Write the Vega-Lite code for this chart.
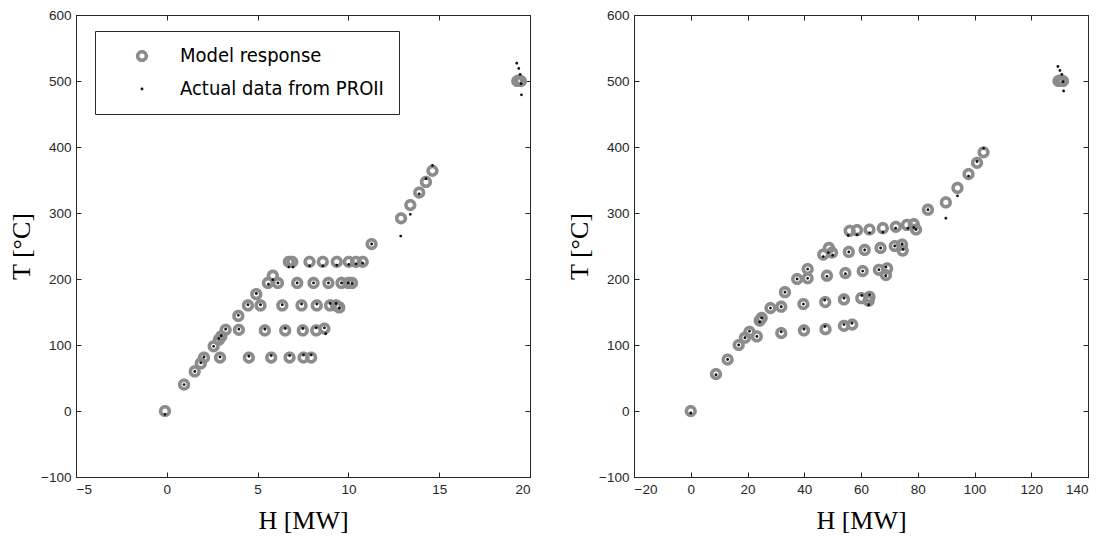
{
  "$schema": "https://vega.github.io/schema/vega-lite/v6.json",
  "padding": {"left": 8, "top": 7, "right": 5, "bottom": 5},
  "background": "white",
  "config": {
    "view": {"stroke": "#262626", "strokeWidth": 1},
    "axis": {
      "grid": false,
      "domainColor": "#262626",
      "tickColor": "#262626",
      "labelColor": "#262626",
      "labelFont": "Liberation Sans",
      "labelFontSize": 13.5,
      "titleFont": "Liberation Serif",
      "titleFontSize": 26,
      "titleFontWeight": "normal",
      "titleColor": "#000000",
      "tickSize": -5,
      "labelPadding": 10
    },
    "legend": {
      "title": null,
      "orient": "none",
      "legendX": 19,
      "legendY": 16,
      "padding": 15,
      "strokeColor": "#262626",
      "fillColor": "white",
      "labelFont": "Liberation Sans Narrow, DejaVu Sans Condensed, sans-serif",
      "labelFontSize": 20,
      "labelColor": "#000000",
      "labelLimit": 500,
      "rowPadding": 13,
      "symbolSize": 150,
      "symbolStrokeWidth": 0,
      "symbolOffset": 22,
      "labelOffset": 28
    }
  },
  "datasets": {
    "left": [
      {"series": "Model response", "H": -0.1, "T": 0},
      {"series": "Model response", "H": 0.95, "T": 40},
      {"series": "Model response", "H": 1.54, "T": 60},
      {"series": "Model response", "H": 1.87, "T": 72},
      {"series": "Model response", "H": 2.05, "T": 81},
      {"series": "Model response", "H": 2.58, "T": 98},
      {"series": "Model response", "H": 2.87, "T": 108},
      {"series": "Model response", "H": 3.0, "T": 113},
      {"series": "Model response", "H": 3.24, "T": 123},
      {"series": "Model response", "H": 2.93, "T": 81},
      {"series": "Model response", "H": 3.97, "T": 123},
      {"series": "Model response", "H": 3.94, "T": 144},
      {"series": "Model response", "H": 4.47, "T": 160},
      {"series": "Model response", "H": 5.16, "T": 160},
      {"series": "Model response", "H": 4.93, "T": 177},
      {"series": "Model response", "H": 5.57, "T": 194},
      {"series": "Model response", "H": 5.84, "T": 205},
      {"series": "Model response", "H": 6.12, "T": 194},
      {"series": "Model response", "H": 6.72, "T": 226},
      {"series": "Model response", "H": 6.91, "T": 226},
      {"series": "Model response", "H": 7.86, "T": 226},
      {"series": "Model response", "H": 8.59, "T": 226},
      {"series": "Model response", "H": 9.36, "T": 226},
      {"series": "Model response", "H": 10.02, "T": 226},
      {"series": "Model response", "H": 10.42, "T": 226},
      {"series": "Model response", "H": 10.79, "T": 226},
      {"series": "Model response", "H": 7.18, "T": 194},
      {"series": "Model response", "H": 8.08, "T": 194},
      {"series": "Model response", "H": 8.9, "T": 194},
      {"series": "Model response", "H": 9.62, "T": 194},
      {"series": "Model response", "H": 10.0, "T": 194},
      {"series": "Model response", "H": 10.2, "T": 194},
      {"series": "Model response", "H": 6.36, "T": 160},
      {"series": "Model response", "H": 7.42, "T": 160},
      {"series": "Model response", "H": 8.26, "T": 160},
      {"series": "Model response", "H": 8.99, "T": 160},
      {"series": "Model response", "H": 9.32, "T": 160},
      {"series": "Model response", "H": 9.5, "T": 157},
      {"series": "Model response", "H": 5.4, "T": 122},
      {"series": "Model response", "H": 6.52, "T": 122},
      {"series": "Model response", "H": 7.49, "T": 122},
      {"series": "Model response", "H": 8.23, "T": 122},
      {"series": "Model response", "H": 8.68, "T": 125},
      {"series": "Model response", "H": 4.52, "T": 81},
      {"series": "Model response", "H": 5.75, "T": 81},
      {"series": "Model response", "H": 6.76, "T": 81},
      {"series": "Model response", "H": 7.53, "T": 81},
      {"series": "Model response", "H": 7.95, "T": 81},
      {"series": "Model response", "H": 11.28, "T": 253},
      {"series": "Model response", "H": 12.9, "T": 292},
      {"series": "Model response", "H": 13.41, "T": 312},
      {"series": "Model response", "H": 13.9, "T": 331},
      {"series": "Model response", "H": 14.27, "T": 347},
      {"series": "Model response", "H": 14.63, "T": 364},
      {"series": "Model response", "H": 19.3, "T": 500},
      {"series": "Model response", "H": 19.4, "T": 501},
      {"series": "Model response", "H": 19.5, "T": 500},
      {"series": "Actual data from PROII", "H": -0.1, "T": -5},
      {"series": "Actual data from PROII", "H": 0.95, "T": 40},
      {"series": "Actual data from PROII", "H": 1.54, "T": 60},
      {"series": "Actual data from PROII", "H": 1.87, "T": 73},
      {"series": "Actual data from PROII", "H": 2.05, "T": 82},
      {"series": "Actual data from PROII", "H": 2.58, "T": 98},
      {"series": "Actual data from PROII", "H": 2.87, "T": 110},
      {"series": "Actual data from PROII", "H": 3.0, "T": 114},
      {"series": "Actual data from PROII", "H": 3.24, "T": 124},
      {"series": "Actual data from PROII", "H": 2.93, "T": 82},
      {"series": "Actual data from PROII", "H": 3.97, "T": 124},
      {"series": "Actual data from PROII", "H": 3.94, "T": 145},
      {"series": "Actual data from PROII", "H": 4.47, "T": 161},
      {"series": "Actual data from PROII", "H": 5.16, "T": 161},
      {"series": "Actual data from PROII", "H": 4.93, "T": 178},
      {"series": "Actual data from PROII", "H": 5.6, "T": 192},
      {"series": "Actual data from PROII", "H": 5.84, "T": 199},
      {"series": "Actual data from PROII", "H": 6.12, "T": 194},
      {"series": "Actual data from PROII", "H": 6.72, "T": 218},
      {"series": "Actual data from PROII", "H": 6.95, "T": 218},
      {"series": "Actual data from PROII", "H": 7.86, "T": 220},
      {"series": "Actual data from PROII", "H": 8.59, "T": 220},
      {"series": "Actual data from PROII", "H": 9.36, "T": 221},
      {"series": "Actual data from PROII", "H": 10.02, "T": 222},
      {"series": "Actual data from PROII", "H": 10.42, "T": 223},
      {"series": "Actual data from PROII", "H": 10.79, "T": 224},
      {"series": "Actual data from PROII", "H": 7.18, "T": 194},
      {"series": "Actual data from PROII", "H": 8.08, "T": 194},
      {"series": "Actual data from PROII", "H": 8.9, "T": 194},
      {"series": "Actual data from PROII", "H": 9.62, "T": 194},
      {"series": "Actual data from PROII", "H": 10.0, "T": 194},
      {"series": "Actual data from PROII", "H": 10.2, "T": 193},
      {"series": "Actual data from PROII", "H": 6.36, "T": 161},
      {"series": "Actual data from PROII", "H": 7.42, "T": 162},
      {"series": "Actual data from PROII", "H": 8.26, "T": 162},
      {"series": "Actual data from PROII", "H": 8.99, "T": 163},
      {"series": "Actual data from PROII", "H": 9.32, "T": 163},
      {"series": "Actual data from PROII", "H": 9.5, "T": 156},
      {"series": "Actual data from PROII", "H": 5.4, "T": 124},
      {"series": "Actual data from PROII", "H": 6.52, "T": 125},
      {"series": "Actual data from PROII", "H": 7.49, "T": 125},
      {"series": "Actual data from PROII", "H": 8.23, "T": 126},
      {"series": "Actual data from PROII", "H": 8.68, "T": 126},
      {"series": "Actual data from PROII", "H": 8.75, "T": 117},
      {"series": "Actual data from PROII", "H": 4.52, "T": 83},
      {"series": "Actual data from PROII", "H": 5.75, "T": 84},
      {"series": "Actual data from PROII", "H": 6.76, "T": 84},
      {"series": "Actual data from PROII", "H": 7.53, "T": 85},
      {"series": "Actual data from PROII", "H": 7.95, "T": 85},
      {"series": "Actual data from PROII", "H": 11.28, "T": 253},
      {"series": "Actual data from PROII", "H": 12.88, "T": 265},
      {"series": "Actual data from PROII", "H": 13.41, "T": 298},
      {"series": "Actual data from PROII", "H": 13.9, "T": 329},
      {"series": "Actual data from PROII", "H": 14.27, "T": 352},
      {"series": "Actual data from PROII", "H": 14.63, "T": 372},
      {"series": "Actual data from PROII", "H": 19.27, "T": 527},
      {"series": "Actual data from PROII", "H": 19.38, "T": 519},
      {"series": "Actual data from PROII", "H": 19.46, "T": 510},
      {"series": "Actual data from PROII", "H": 19.51, "T": 496},
      {"series": "Actual data from PROII", "H": 19.53, "T": 479}
    ],
    "right": [
      {"series": "Model response", "H": 0, "T": 0},
      {"series": "Model response", "H": 8.9, "T": 56},
      {"series": "Model response", "H": 13.0, "T": 78},
      {"series": "Model response", "H": 16.9, "T": 100},
      {"series": "Model response", "H": 19.1, "T": 111},
      {"series": "Model response", "H": 20.7, "T": 120},
      {"series": "Model response", "H": 23.3, "T": 113},
      {"series": "Model response", "H": 24.3, "T": 137},
      {"series": "Model response", "H": 25.0, "T": 141},
      {"series": "Model response", "H": 28.1, "T": 156},
      {"series": "Model response", "H": 31.9, "T": 158},
      {"series": "Model response", "H": 31.9, "T": 118},
      {"series": "Model response", "H": 33.2, "T": 180},
      {"series": "Model response", "H": 37.5, "T": 200},
      {"series": "Model response", "H": 41.2, "T": 201},
      {"series": "Model response", "H": 41.2, "T": 215},
      {"series": "Model response", "H": 39.7, "T": 162},
      {"series": "Model response", "H": 39.9, "T": 122},
      {"series": "Model response", "H": 46.7, "T": 237},
      {"series": "Model response", "H": 48.0, "T": 205},
      {"series": "Model response", "H": 47.4, "T": 165},
      {"series": "Model response", "H": 47.5, "T": 124},
      {"series": "Model response", "H": 48.7, "T": 247},
      {"series": "Model response", "H": 49.8, "T": 240},
      {"series": "Model response", "H": 54.5, "T": 209},
      {"series": "Model response", "H": 54.0, "T": 169},
      {"series": "Model response", "H": 54.0, "T": 129},
      {"series": "Model response", "H": 56.9, "T": 131},
      {"series": "Model response", "H": 55.7, "T": 241},
      {"series": "Model response", "H": 56.0, "T": 273},
      {"series": "Model response", "H": 58.6, "T": 274},
      {"series": "Model response", "H": 60.6, "T": 212},
      {"series": "Model response", "H": 60.1, "T": 171},
      {"series": "Model response", "H": 63.0, "T": 173},
      {"series": "Model response", "H": 62.7, "T": 167},
      {"series": "Model response", "H": 61.3, "T": 244},
      {"series": "Model response", "H": 63.0, "T": 275},
      {"series": "Model response", "H": 66.3, "T": 214},
      {"series": "Model response", "H": 69.2, "T": 216},
      {"series": "Model response", "H": 68.8, "T": 206},
      {"series": "Model response", "H": 66.9, "T": 247},
      {"series": "Model response", "H": 67.7, "T": 277},
      {"series": "Model response", "H": 71.9, "T": 250},
      {"series": "Model response", "H": 72.3, "T": 279},
      {"series": "Model response", "H": 74.5, "T": 252},
      {"series": "Model response", "H": 74.7, "T": 243},
      {"series": "Model response", "H": 76.2, "T": 282},
      {"series": "Model response", "H": 78.6, "T": 283},
      {"series": "Model response", "H": 79.4, "T": 275},
      {"series": "Model response", "H": 83.6, "T": 305},
      {"series": "Model response", "H": 89.9, "T": 316},
      {"series": "Model response", "H": 94.0, "T": 338},
      {"series": "Model response", "H": 97.9, "T": 359},
      {"series": "Model response", "H": 100.9, "T": 376},
      {"series": "Model response", "H": 103.2, "T": 392},
      {"series": "Model response", "H": 129.6, "T": 500},
      {"series": "Model response", "H": 130.4, "T": 501},
      {"series": "Model response", "H": 131.2, "T": 500},
      {"series": "Actual data from PROII", "H": 0, "T": -3},
      {"series": "Actual data from PROII", "H": 8.9, "T": 55},
      {"series": "Actual data from PROII", "H": 13.0, "T": 78},
      {"series": "Actual data from PROII", "H": 16.9, "T": 100},
      {"series": "Actual data from PROII", "H": 19.1, "T": 111},
      {"series": "Actual data from PROII", "H": 20.7, "T": 121},
      {"series": "Actual data from PROII", "H": 23.3, "T": 113},
      {"series": "Actual data from PROII", "H": 24.3, "T": 135},
      {"series": "Actual data from PROII", "H": 25.0, "T": 141},
      {"series": "Actual data from PROII", "H": 28.1, "T": 156},
      {"series": "Actual data from PROII", "H": 31.9, "T": 158},
      {"series": "Actual data from PROII", "H": 31.9, "T": 120},
      {"series": "Actual data from PROII", "H": 33.2, "T": 180},
      {"series": "Actual data from PROII", "H": 37.5, "T": 200},
      {"series": "Actual data from PROII", "H": 41.2, "T": 201},
      {"series": "Actual data from PROII", "H": 41.2, "T": 215},
      {"series": "Actual data from PROII", "H": 39.7, "T": 162},
      {"series": "Actual data from PROII", "H": 39.9, "T": 124},
      {"series": "Actual data from PROII", "H": 46.7, "T": 234},
      {"series": "Actual data from PROII", "H": 48.0, "T": 204},
      {"series": "Actual data from PROII", "H": 47.2, "T": 168},
      {"series": "Actual data from PROII", "H": 47.3, "T": 128},
      {"series": "Actual data from PROII", "H": 48.5, "T": 240},
      {"series": "Actual data from PROII", "H": 50.0, "T": 236},
      {"series": "Actual data from PROII", "H": 54.5, "T": 208},
      {"series": "Actual data from PROII", "H": 54.0, "T": 171},
      {"series": "Actual data from PROII", "H": 54.0, "T": 131},
      {"series": "Actual data from PROII", "H": 56.8, "T": 133},
      {"series": "Actual data from PROII", "H": 55.7, "T": 241},
      {"series": "Actual data from PROII", "H": 55.5, "T": 266},
      {"series": "Actual data from PROII", "H": 58.6, "T": 267},
      {"series": "Actual data from PROII", "H": 60.6, "T": 212},
      {"series": "Actual data from PROII", "H": 60.3, "T": 175},
      {"series": "Actual data from PROII", "H": 63.0, "T": 176},
      {"series": "Actual data from PROII", "H": 62.7, "T": 161},
      {"series": "Actual data from PROII", "H": 61.3, "T": 244},
      {"series": "Actual data from PROII", "H": 63.0, "T": 270},
      {"series": "Actual data from PROII", "H": 66.3, "T": 214},
      {"series": "Actual data from PROII", "H": 68.8, "T": 218},
      {"series": "Actual data from PROII", "H": 68.7, "T": 205},
      {"series": "Actual data from PROII", "H": 66.9, "T": 247},
      {"series": "Actual data from PROII", "H": 67.7, "T": 271},
      {"series": "Actual data from PROII", "H": 71.9, "T": 250},
      {"series": "Actual data from PROII", "H": 72.2, "T": 277},
      {"series": "Actual data from PROII", "H": 74.5, "T": 253},
      {"series": "Actual data from PROII", "H": 74.8, "T": 245},
      {"series": "Actual data from PROII", "H": 76.5, "T": 277},
      {"series": "Actual data from PROII", "H": 78.6, "T": 278},
      {"series": "Actual data from PROII", "H": 79.4, "T": 275},
      {"series": "Actual data from PROII", "H": 83.6, "T": 305},
      {"series": "Actual data from PROII", "H": 89.9, "T": 292},
      {"series": "Actual data from PROII", "H": 94.0, "T": 326},
      {"series": "Actual data from PROII", "H": 97.9, "T": 356},
      {"series": "Actual data from PROII", "H": 100.9, "T": 378},
      {"series": "Actual data from PROII", "H": 103.2, "T": 398},
      {"series": "Actual data from PROII", "H": 129.4, "T": 522},
      {"series": "Actual data from PROII", "H": 130.1, "T": 516},
      {"series": "Actual data from PROII", "H": 130.8, "T": 510},
      {"series": "Actual data from PROII", "H": 131.2, "T": 499},
      {"series": "Actual data from PROII", "H": 131.4, "T": 485}
    ]
  },
  "hconcat": [
    {
      "width": 454,
      "height": 462,
      "data": {"name": "left"},
      "resolve": {"axis": {"x": "independent", "y": "independent"}},
      "layer": [
        {
          "transform": [{"filter": "datum.series === 'Model response'"}],
          "mark": {"type": "point", "filled": true, "size": 150, "strokeWidth": 0, "opacity": 1},
          "encoding": {
            "x": {"field": "H", "type": "quantitative", "scale": {"domain": [-5, 20], "nice": false, "zero": false},
                  "axis": {"orient": "bottom", "title": "H [MW]", "values": [-5, 0, 5, 10, 15, 20], "titlePadding": 12}},
            "y": {"field": "T", "type": "quantitative", "scale": {"domain": [-100, 600], "nice": false, "zero": false},
                  "axis": {"orient": "left", "title": "T [°C]", "values": [-100, 0, 100, 200, 300, 400, 500, 600], "titlePadding": 6}},
            "color": {"field": "series", "type": "nominal",
              "scale": {"domain": ["Model response", "Actual data from PROII"], "range": ["#8c8c8c", "#111111"]},
              "legend": {"labelExpr": "datum.label + '\u00a0\u00a0\u00a0\u00a0\u00a0\u00a0\u00a0\u00a0\u00a0\u00a0\u00a0\u00a0\u00a0'"}},
            "shape": {"field": "series", "type": "nominal",
              "scale": {"domain": ["Model response", "Actual data from PROII"],
                        "range": ["M -1 0 A 1 1 0 1 0 1 0 A 1 1 0 1 0 -1 0 Z M -0.42 0 A 0.42 0.42 0 1 1 0.42 0 A 0.42 0.42 0 1 1 -0.42 0 Z",
                                  "M -0.23 0 A 0.23 0.23 0 1 0 0.23 0 A 0.23 0.23 0 1 0 -0.23 0 Z"]},
              "legend": {"labelExpr": "datum.label + '\u00a0\u00a0\u00a0\u00a0\u00a0\u00a0\u00a0\u00a0\u00a0\u00a0\u00a0\u00a0\u00a0'"}}
          }
        },
        {
          "transform": [{"filter": "datum.series === 'Actual data from PROII'"}],
          "mark": {"type": "point", "filled": true, "size": 150, "strokeWidth": 0, "opacity": 1},
          "encoding": {
            "x": {"field": "H", "type": "quantitative", "axis": {"orient": "top", "labels": false, "title": null, "values": [-5, 0, 5, 10, 15, 20]}},
            "y": {"field": "T", "type": "quantitative", "axis": {"orient": "right", "labels": false, "title": null, "values": [-100, 0, 100, 200, 300, 400, 500, 600]}},
            "color": {"field": "series", "type": "nominal"},
            "shape": {"field": "series", "type": "nominal"}
          }
        }
      ]
    },
    {
      "width": 454,
      "height": 462,
      "data": {"name": "right"},
      "resolve": {"axis": {"x": "independent", "y": "independent"}},
      "layer": [
        {
          "transform": [{"filter": "datum.series === 'Model response'"}],
          "mark": {"type": "point", "filled": true, "size": 150, "strokeWidth": 0, "opacity": 1, "fill": "#8c8c8c",
                   "shape": "M -1 0 A 1 1 0 1 0 1 0 A 1 1 0 1 0 -1 0 Z M -0.42 0 A 0.42 0.42 0 1 1 0.42 0 A 0.42 0.42 0 1 1 -0.42 0 Z"},
          "encoding": {
            "x": {"field": "H", "type": "quantitative", "scale": {"domain": [-20, 140], "nice": false, "zero": false},
                  "axis": {"orient": "bottom", "title": "H [MW]", "values": [-20, 0, 20, 40, 60, 80, 100, 120, 140], "titlePadding": 12}},
            "y": {"field": "T", "type": "quantitative", "scale": {"domain": [-100, 600], "nice": false, "zero": false},
                  "axis": {"orient": "left", "title": "T [°C]", "values": [-100, 0, 100, 200, 300, 400, 500, 600], "titlePadding": 6}}
          }
        },
        {
          "transform": [{"filter": "datum.series === 'Actual data from PROII'"}],
          "mark": {"type": "point", "filled": true, "size": 150, "strokeWidth": 0, "opacity": 1, "fill": "#111111",
                   "shape": "M -0.23 0 A 0.23 0.23 0 1 0 0.23 0 A 0.23 0.23 0 1 0 -0.23 0 Z"},
          "encoding": {
            "x": {"field": "H", "type": "quantitative", "axis": {"orient": "top", "labels": false, "title": null, "values": [-20, 0, 20, 40, 60, 80, 100, 120, 140]}},
            "y": {"field": "T", "type": "quantitative", "axis": {"orient": "right", "labels": false, "title": null, "values": [-100, 0, 100, 200, 300, 400, 500, 600]}}
          }
        }
      ]
    }
  ],
  "spacing": 35
}
